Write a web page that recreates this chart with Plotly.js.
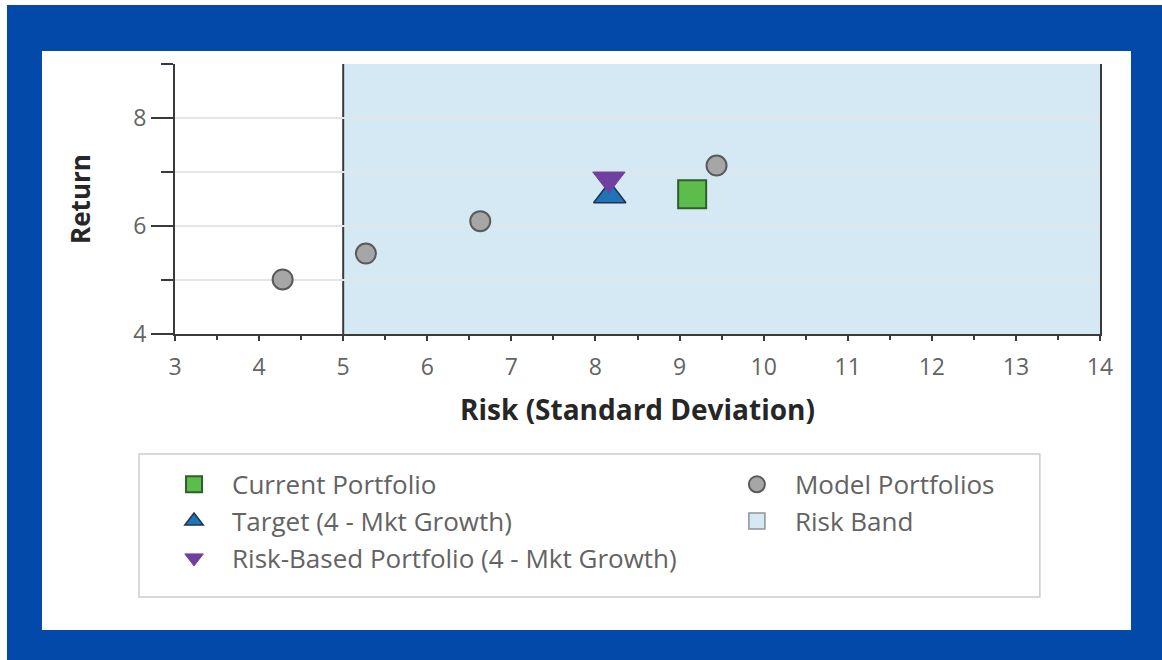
<!DOCTYPE html>
<html>
<head>
<meta charset="utf-8">
<script src="https://cdn.plot.ly/plotly-3.0.1.min.js"></script>
<style>html,body{margin:0;padding:0;background:#fff;overflow:hidden;}#chart{position:absolute;left:7px;top:5px;width:1155px;height:655px;}</style>
</head>
<body>
<div id="chart"></div>
<script>
// ---- data ----
const modelRisk = [4.28, 5.27, 6.63, 9.44];
const modelReturn = [5.01, 5.49, 6.09, 7.12];
const currentRisk = [9.15];
const currentReturn = [6.59];
const targetRisk = [8.17];
const targetReturn = [6.56];
const riskBasedRisk = [8.16];
const riskBasedReturn = [6.87];
const riskBand = [5, 14];
const returnRange = [4, 9];
const xTickVals = [3, 4, 5, 6, 7, 8, 9, 10, 11, 12, 13, 14];
const yTickVals = [4, 6, 8];

const FONT = 'Open Sans, Noto Sans, sans-serif';
const TXT = '#636363';
const AX = '#3a3a3a';
const BLUE_FRAME = '#0349aa';
const BAND_FILL = '#d5e9f4';

const traces = [
  {
    type: 'scatter', mode: 'markers', name: 'Current Portfolio',
    x: currentRisk, y: currentReturn, legend: 'legend', legendgroup: 'a',
    marker: {symbol: 'square', size: 28, color: '#5cbd4c', line: {color: '#2f5e2a', width: 2}}
  },
  {
    type: 'scatter', mode: 'markers', name: 'Target (4 - Mkt Growth)',
    x: targetRisk, y: targetReturn, legend: 'legend', legendgroup: 'b',
    marker: {symbol: 'triangle-up', size: 28, color: '#1f73b7', line: {color: '#1c3550', width: 1.5}}
  },
  {
    type: 'scatter', mode: 'markers', name: 'Risk-Based Portfolio (4 - Mkt Growth)',
    x: riskBasedRisk, y: riskBasedReturn, legend: 'legend', legendgroup: 'c',
    marker: {symbol: 'triangle-down', size: 28, color: '#7040a0', line: {color: '#7040a0', width: 1}}
  },
  {
    type: 'scatter', mode: 'markers', name: 'Model Portfolios',
    x: modelRisk, y: modelReturn, legend: 'legend2', legendgroup: 'd',
    marker: {symbol: 'circle', size: 20, color: '#a6a6a6', line: {color: '#5a5a5a', width: 2}}
  },
  {
    // legend entry for the risk band (band itself is drawn as a shape below)
    type: 'scatter', mode: 'markers', name: 'Risk Band',
    x: [null], y: [null], legend: 'legend2', legendgroup: 'e',
    marker: {symbol: 'square', size: 16, color: BAND_FILL, line: {color: '#8e9296', width: 1.5}}
  }
];

const shapes = [
  // white panel
  {type: 'rect', xref: 'paper', yref: 'paper', x0: -0.1438, x1: 1.0335, y0: -1.096, y1: 1.048,
   fillcolor: '#ffffff', line: {width: 0}, layer: 'below'},
  // legend box
  {type: 'rect', xref: 'paper', yref: 'paper', x0: -0.0389, x1: 0.935, y0: -0.974, y1: -0.444,
   fillcolor: 'rgba(0,0,0,0)', line: {color: '#cccccc', width: 1.5}, layer: 'below'},
  // risk band
  {type: 'rect', xref: 'x', yref: 'y', x0: riskBand[0], x1: riskBand[1], y0: returnRange[0], y1: returnRange[1],
   fillcolor: BAND_FILL, line: {width: 0}, layer: 'below'},
  // risk band lower edge
  {type: 'line', xref: 'x', yref: 'y', x0: riskBand[0], x1: riskBand[0], y0: returnRange[0], y1: returnRange[1],
   line: {color: AX, width: 2}, layer: 'below'}
];

const legendCommon = {
  orientation: 'v', bgcolor: 'rgba(0,0,0,0)', borderwidth: 0,
  font: {family: FONT, size: 26, color: TXT},
  traceorder: 'grouped', tracegroupgap: 0, xanchor: 'left', yanchor: 'top',
  itemsizing: 'trace', itemwidth: 66
};

const layout = {
  width: 1155, height: 655,
  paper_bgcolor: BLUE_FRAME, plot_bgcolor: '#ffffff',
  margin: {l: 168, r: 62, t: 59, b: 326, pad: 0},
  font: {family: FONT, color: TXT},
  showlegend: true,
  xaxis: {
    range: [3, 14], tickvals: xTickVals, ticks: 'outside', ticklen: 5, tickwidth: 2, tickcolor: AX,
    showline: true, linecolor: AX, linewidth: 2, showgrid: false, zeroline: false,
    minor: {dtick: 0.5, tick0: 3, ticks: 'outside', ticklen: 4, tickwidth: 2, tickcolor: AX, showgrid: false},
    tickfont: {family: FONT, size: 23, color: TXT}, ticklabelstandoff: 6,
    title: {text: '<b>Risk (Standard Deviation)</b>', font: {family: FONT, size: 28, color: '#262626'}, standoff: 20},
    automargin: false, fixedrange: true
  },
  yaxis: {
    range: [4, 9], tickvals: yTickVals, ticks: 'outside', ticklen: 22, tickwidth: 2, tickcolor: AX,
    showline: true, mirror: true, linecolor: AX, linewidth: 2,
    showgrid: true, gridcolor: '#e3e6e8', gridwidth: 2, zeroline: false,
    minor: {tickvals: [5, 7, 9], ticks: 'outside', ticklen: 12, tickwidth: 2, tickcolor: AX, showgrid: true, gridcolor: '#e3e6e8', gridwidth: 2},
    tickfont: {family: FONT, size: 23, color: TXT},
    title: {text: '<b>Return</b>', font: {family: FONT, size: 26, color: '#262626'}, standoff: 35},
    automargin: false, fixedrange: true
  },
  legend: Object.assign({}, legendCommon, {x: -0.0205, y: -0.47}),
  legend2: Object.assign({}, legendCommon, {x: 0.588, y: -0.47}),
  shapes: shapes
};

Plotly.newPlot('chart', traces, layout, {displayModeBar: false, staticPlot: true});
</script>
</body>
</html>
